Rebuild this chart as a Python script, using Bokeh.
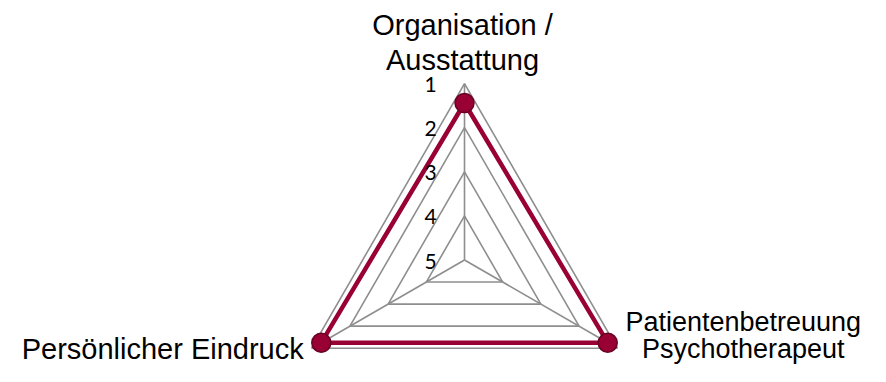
import numpy as np
from bokeh.plotting import figure
from bokeh.models import Range1d, ColumnDataSource
from bokeh.core.properties import value
from bokeh.embed import file_html
from bokeh.resources import INLINE

# ---- data ----
categories = ["Organisation / Ausstattung", "Patientenbetreuung Psychotherapeut", "Persönlicher Eindruck"]
label_lines = [["Organisation /", "Ausstattung"], ["Patientenbetreuung", "Psychotherapeut"], ["Persönlicher Eindruck"]]
scores = [1.44, 1.25, 1.25]
tick_values = [1, 2, 3, 4, 5]
tick_labels = ["1", "2", "3", "4", "5"]

# ---- geometry ----
W, H = 870, 366
PX = 44.1                 # pixels per scale unit
CX, CY = 464.0, 259.5     # radar centre in figure pixels (from top-left)
angles = np.deg2rad([90, -30, 210])
vmin, vmax = 1, 5

def rad(v):
    return (vmax - v)

p = figure(width=W, height=H, output_backend="svg", toolbar_location=None,
           x_axis_location=None, y_axis_location=None,
           x_range=Range1d(-CX / PX, (W - CX) / PX),
           y_range=Range1d(-(H - CY) / PX, CY / PX),
           min_border=0, background_fill_color="white", border_fill_color="white")
p.grid.visible = False
p.outline_line_color = None

grid_col = "#8e8e8e"
# grid triangles
for v in tick_values:
    r = rad(v)
    if r <= 0:
        continue
    xs = list(r * np.cos(angles)) + [r * np.cos(angles[0])]
    ys = list(r * np.sin(angles)) + [r * np.sin(angles[0])]
    p.line(xs, ys, line_color=grid_col, line_width=1.6)
# spokes
R = rad(vmin)
for a in angles:
    p.line([0, R * np.cos(a)], [0, R * np.sin(a)], line_color=grid_col, line_width=1.6)

# data series
sr = [rad(s) for s in scores]
dx = [r * np.cos(a) for r, a in zip(sr, angles)]
dy = [r * np.sin(a) for r, a in zip(sr, angles)]
red = "#990033"
p.line(dx + [dx[0]], dy + [dy[0]], line_color=red, line_width=4.5, line_join="miter")
p.scatter(dx, dy, size=19, fill_color=red, line_color="#6a0022", line_width=1.5)

# tick labels along top spoke
tsrc = ColumnDataSource(dict(x=[0] * len(tick_values), y=[rad(v) for v in tick_values], t=tick_labels))
p.text("x", "y", text="t", source=tsrc, x_offset=-34, y_offset=1,
       text_align="center", text_baseline="middle",
       text_font=value("Lato"), text_font_size="21px", text_color="#000000")

# category labels
vx = [R * np.cos(a) for a in angles]
vy = [R * np.sin(a) for a in angles]
lx, ly, lt, xo, yo, al, fs = [], [], [], [], [], [], []
offs = {0: (-2, [-59, -24], "center", "29px"),
        1: (126, [-26, 1], "center", "27px"),
        2: (-8, [0.3], "right", "29px")}
for i, lines in enumerate(label_lines):
    ox, oys, align, size = offs[i]
    for line, oy in zip(lines, oys):
        lx.append(vx[i]); ly.append(vy[i]); lt.append(line)
        xo.append(ox); yo.append(oy); al.append(align); fs.append(size)
lsrc = ColumnDataSource(dict(x=lx, y=ly, t=lt, xo=xo, yo=yo, al=al, fs=fs))
p.text("x", "y", text="t", source=lsrc, x_offset="xo", y_offset="yo", text_align="al",
       text_baseline="middle", text_font=value("Liberation Sans"),
       text_font_size="fs", text_color="#000000")

open("out.html", "w").write(file_html(p, INLINE))
